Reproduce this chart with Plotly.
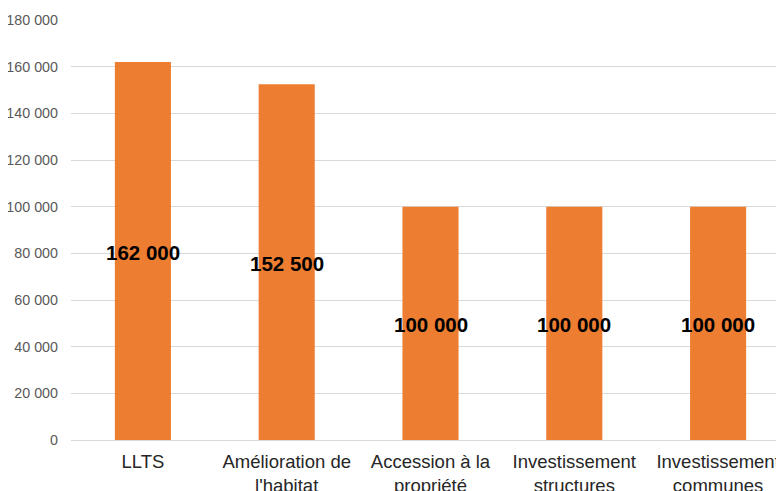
import plotly.graph_objects as go

categories = ["LLTS", "Amélioration de<br>l'habitat", "Accession à la<br>propriété",
              "Investissement<br>structures", "Investissement<br>communes"]
values = [162000, 152500, 100000, 100000, 100000]
label_texts = ["162 000", "152 500", "100 000", "100 000", "100 000"]
y_ticks = [0, 20000, 40000, 60000, 80000, 100000, 120000, 140000, 160000, 180000]

fig = go.Figure()
fig.add_trace(go.Bar(x=categories, y=values, marker=dict(color="#ED7D31", line=dict(width=0)),
                     width=0.39, hoverinfo="skip"))

for cat, val, txt in zip(categories, values, label_texts):
    fig.add_annotation(x=cat, y=val / 2, text="<b>" + txt + "</b>", showarrow=False,
                       yshift=-1, xanchor="center", yanchor="middle",
                       font=dict(family="Liberation Sans, Arial", size=20.5, color="#000000"))

fig.update_layout(
    width=784, height=491,
    margin=dict(l=63, r=2, t=12, b=59),
    paper_bgcolor="white", plot_bgcolor="white",
    showlegend=False,
    separators=", ",
    font=dict(family="Liberation Sans, Arial", color="#595959"),
)
fig.update_xaxes(
    tickfont=dict(size=18.5, color="#262626"),
    showgrid=False, showline=False, ticks="", fixedrange=True,
    range=[-0.5, 4.5], ticklabelstandoff=8, automargin=False,
)
fig.update_yaxes(
    range=[0, 180000], tickvals=y_ticks, tickformat=",d",
    tickfont=dict(size=14.3, color="#595959"),
    showgrid=True, gridcolor="#D9D9D9", gridwidth=1,
    zeroline=True, zerolinecolor="#D9D9D9", zerolinewidth=1,
    showline=False, ticks="", ticklabelstandoff=12, automargin=False,
)
fig.write_html("out.html")
